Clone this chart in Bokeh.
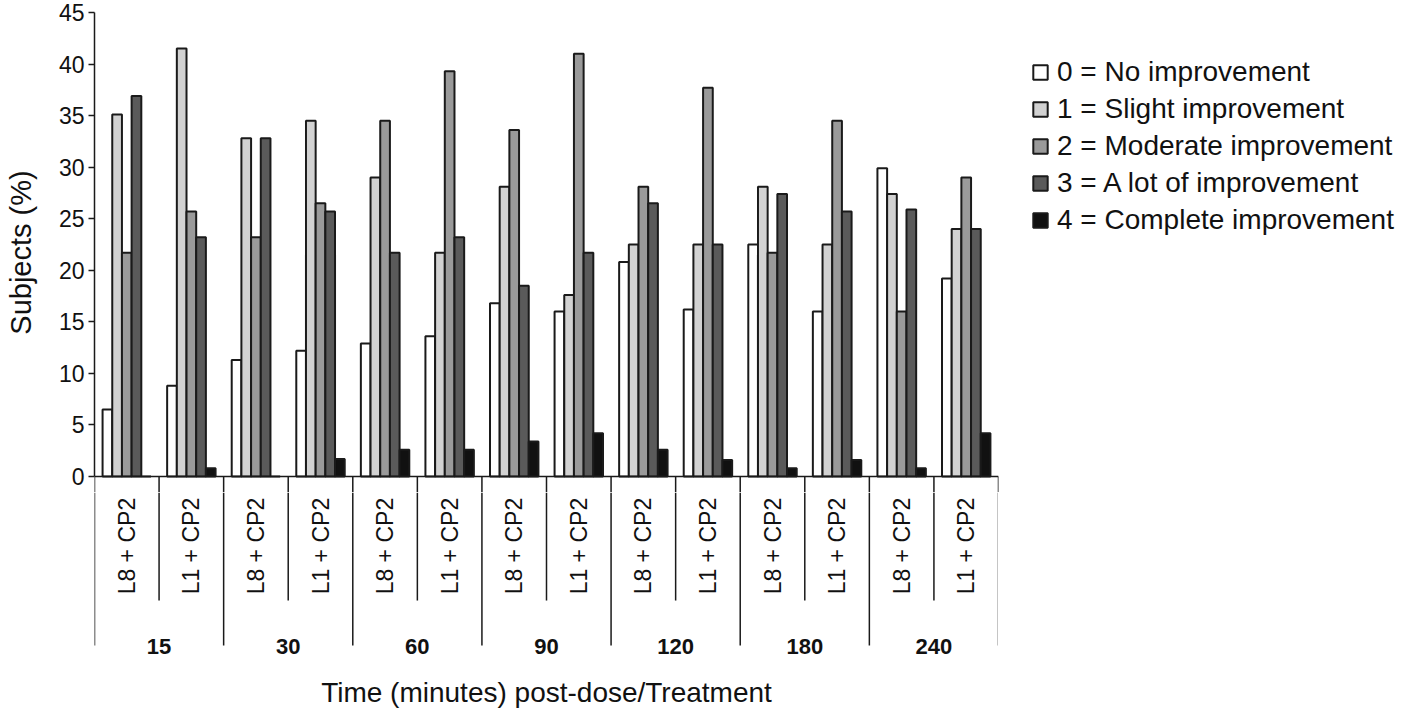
import math
from bokeh.plotting import figure
from bokeh.layouts import column
from bokeh.models import Range1d, FixedTicker, ColumnDataSource, Legend, LegendItem
from bokeh.transform import dodge
from bokeh.core.properties import value
from bokeh.embed import file_html
from bokeh.resources import INLINE

# ---- data ----
times = ["15", "30", "60", "90", "120", "180", "240"]
treatments = ["L8 + CP2", "L1 + CP2"]
score_labels = ["0 = No improvement", "1 = Slight improvement", "2 = Moderate improvement",
                "3 = A lot of improvement", "4 = Complete improvement"]
# values per (time, treatment) group, in order 15/L8, 15/L1, 30/L8, ...
score0 = [6.5, 8.8, 11.3, 12.2, 12.9, 13.6, 16.8, 16.0, 20.8, 16.2, 22.5, 16.0, 29.9, 19.2]
score1 = [35.1, 41.5, 32.8, 34.5, 29.0, 21.7, 28.1, 17.6, 22.5, 22.5, 28.1, 22.5, 27.4, 24.0]
score2 = [21.7, 25.7, 23.2, 26.5, 34.5, 39.3, 33.6, 41.0, 28.1, 37.7, 21.7, 34.5, 16.0, 29.0]
score3 = [36.9, 23.2, 32.8, 25.7, 21.7, 23.2, 18.5, 21.7, 26.5, 22.5, 27.4, 25.7, 25.9, 24.0]
score4 = [0.0, 0.8, 0.0, 1.7, 2.6, 2.6, 3.4, 4.2, 2.6, 1.6, 0.8, 1.6, 0.8, 4.2]
y_ticks = [0, 5, 10, 15, 20, 25, 30, 35, 40, 45]

series = [score0, score1, score2, score3, score4]
colors = ["#ffffff", "#d2d2d2", "#9a9a9a", "#5a5a5a", "#111111"]
FONT = "Liberation Sans"
INK = "#1a1a1a"
TXT = "#111111"

n_groups = len(times) * len(treatments)
group_x = [i + 0.5 for i in range(n_groups)]
group_treat = [treatments[i % 2] for i in range(n_groups)]
x_range = Range1d(0, n_groups)

Y_LOW = -1.552   # shared boundary between the two panels (in % units)

# ---------- top figure: bars ----------
p = figure(frame_width=904, frame_height=480, x_range=x_range, y_range=Range1d(Y_LOW, 45),
           x_axis_location=None, output_backend="svg", toolbar_location=None,
           min_border_left=94, min_border_top=12, min_border_bottom=0, min_border_right=0)
p.grid.visible = False
p.outline_line_color = None

bar_w = 0.15
renderers = []
for k, vals in enumerate(series):
    src = ColumnDataSource(dict(x=group_x, top=vals))
    r = p.vbar(x=dodge("x", (k - 2) * bar_w, range=x_range), top="top", bottom=0,
               width=bar_w, source=src, fill_color=colors[k], line_color=INK, line_width=2)
    renderers.append(r)

time_bounds = [2 * j for j in range(len(times) + 1)]
treat_bounds = [2 * j + 1 for j in range(len(times))]
all_bounds = sorted(time_bounds + treat_bounds)
# x baseline and the start of the category separators
p.segment(x0=[0], y0=[0], x1=[n_groups], y1=[0], line_color=INK, line_width=1.5)
p.segment(x0=all_bounds, y0=[0] * len(all_bounds), x1=all_bounds, y1=[Y_LOW] * len(all_bounds),
          line_color=INK, line_width=1.5)

ya = p.yaxis[0]
ya.ticker = FixedTicker(ticks=y_ticks)
ya.bounds = (0, 45)
ya.major_tick_out = 6
ya.major_tick_in = 0
ya.minor_tick_line_color = None
ya.major_label_text_font = FONT
ya.major_label_text_font_size = "23px"
ya.major_label_text_color = TXT
ya.major_label_standoff = 4
ya.axis_line_width = 1.5
ya.axis_line_color = INK
ya.major_tick_line_color = INK
ya.major_tick_line_width = 1.5
ya.axis_label = "Subjects (%)"
ya.axis_label_text_font = FONT
ya.axis_label_text_font_style = "normal"
ya.axis_label_text_font_size = "29px"
ya.axis_label_text_color = TXT
ya.axis_label_standoff = 19

legend = Legend(items=[LegendItem(label=score_labels[k], renderers=[renderers[k]]) for k in range(5)],
                location=(33, 256))
legend.label_text_font = FONT
legend.label_text_font_size = "28px"
legend.label_text_color = TXT
legend.glyph_width = 18
legend.glyph_height = 18
legend.label_standoff = 8
legend.spacing = 5
legend.padding = 0
legend.margin = 0
legend.border_line_color = None
legend.background_fill_alpha = 0
p.add_layout(legend, "right")

# ---------- bottom figure: category labels and x title ----------
q = figure(frame_width=904, frame_height=218, x_range=x_range, y_range=Range1d(-22.694, Y_LOW),
           x_axis_location=None, y_axis_location=None, output_backend="svg", toolbar_location=None,
           min_border_left=94, min_border_top=0, min_border_right=0, min_border_bottom=0)
q.grid.visible = False
q.outline_line_color = None

q.segment(x0=time_bounds, y0=[Y_LOW] * len(time_bounds), x1=time_bounds, y1=[-16.39] * len(time_bounds),
          line_color=INK, line_width=1.5)
q.segment(x0=treat_bounds, y0=[Y_LOW] * len(treat_bounds), x1=treat_bounds, y1=[-12.03] * len(treat_bounds),
          line_color=INK, line_width=1.5)

q.text(x=group_x, y=[-6.75] * n_groups, text=group_treat, angle=math.pi / 2,
       text_align="center", text_baseline="middle", text_font=value(FONT),
       text_font_size="23px", text_color=TXT)
q.text(x=[2 * j + 1 for j in range(len(times))], y=[-16.49] * len(times), text=times,
       text_align="center", text_baseline="middle", text_font=value(FONT),
       text_font_size="22px", text_font_style="bold", text_color=TXT)
q.text(x=[n_groups / 2], y=[-20.95], text=["Time (minutes) post-dose/Treatment"],
       text_align="center", text_baseline="middle", text_font=value(FONT),
       text_font_size="28px", text_color=TXT)

layout = column(p, q, spacing=0)
open("out.html", "w").write(file_html(layout, INLINE))
